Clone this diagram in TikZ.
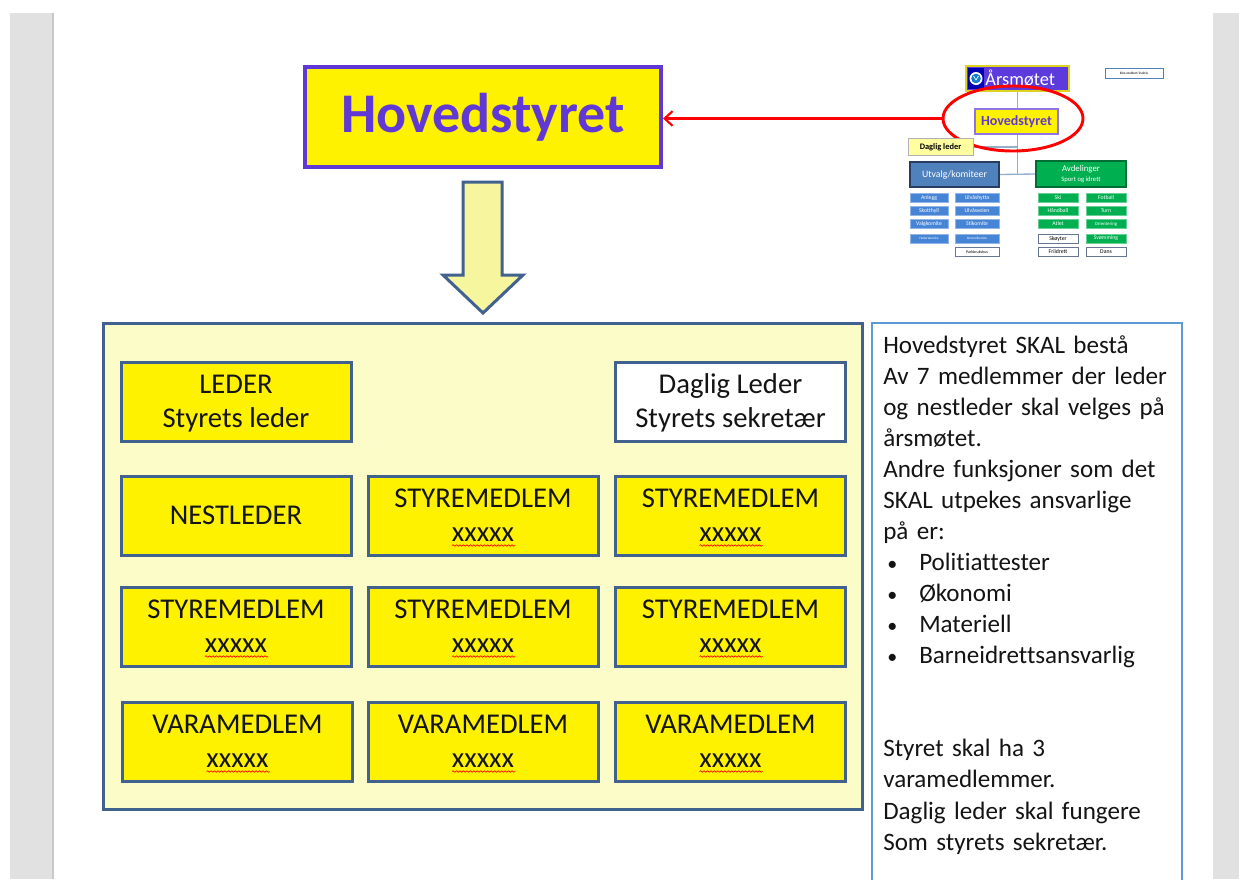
\documentclass[tikz,border=0pt]{standalone}
\usepackage{fontspec}
\setmainfont{Carlito}[Ligatures=CommonOff]
\usetikzlibrary{arrows.meta,shapes.geometric,decorations.pathmorphing,calc,backgrounds}
\definecolor{pagegray}{RGB}{225,225,225}
\definecolor{edgegray}{RGB}{200,200,200}
\definecolor{steel}{RGB}{65,98,143}
\definecolor{boardfill}{RGB}{252,252,200}
\definecolor{purp}{RGB}{96,56,214}
\definecolor{arrowfill}{RGB}{246,246,158}
\definecolor{infoblue}{RGB}{91,155,213}
\definecolor{ink}{RGB}{20,20,20}
\definecolor{arsfill}{RGB}{93,58,220}
\definecolor{orgline}{RGB}{150,175,205}
\definecolor{utvfill}{RGB}{79,129,189}
\definecolor{utvdraw}{RGB}{40,60,100}
\definecolor{avdfill}{RGB}{0,176,80}
\definecolor{avddraw}{RGB}{0,110,50}
\definecolor{subblue}{RGB}{70,132,214}
\definecolor{subgreen}{RGB}{0,176,80}
\definecolor{dlfill}{RGB}{255,255,160}
% two centred lines, caps centred as a block
\newcommand\two[2]{\begin{tabular}{@{}c@{}}\rule{0pt}{21.5pt}#1\\#2\rule[-7.65pt]{0pt}{7.65pt}\end{tabular}}
\newcommand\one[1]{\rule{0pt}{21.5pt}#1\rule[-7.65pt]{0pt}{7.65pt}}
\newcommand\blt{\makebox[27pt][l]{\hspace{3pt}\scalebox{0.8}{•}}}
\begin{document}
\begin{tikzpicture}[x=0.75pt,y=-0.75pt,
  member/.style={draw=steel, line width=2.25pt, fill=yellow, minimum width=172.5pt,
    minimum height=59.25pt, inner sep=0pt, text=ink,
    font=\fontsize{21.5}{25.5}\selectfont},
  titlebox/.style={draw=purp, line width=3pt, fill=yellow, minimum width=267pt,
    minimum height=75pt, inner sep=0pt, text=purp, font=\fontsize{42}{50}\selectfont\bfseries},
  board/.style={draw=steel, line width=2.25pt, fill=boardfill, minimum width=569.25pt,
    minimum height=364.5pt, inner sep=0pt},
  blockarrow/.style={draw=steel, line width=2.25pt, fill=arrowfill, line join=miter},
  wavy/.style={draw=red, line width=0.5pt, decorate,
    decoration={snake, amplitude=0.55pt, segment length=2.6pt}},
  redarrow/.style={draw=red, line width=1.6pt, -{Straight Barb[length=6pt,width=11pt]}},
  ring/.style={ellipse, draw=red, line width=2.2pt, minimum width=105pt, minimum height=48.75pt, inner sep=0pt},
  orgln/.style={draw=orgline, line width=1pt},
  subb/.style={draw=subblue!60!white, line width=0.4pt, fill=subblue, text=white,
    minimum height=7pt, inner sep=0pt, font=\fontsize{4.3}{5}\selectfont},
  subg/.style={draw=subgreen!60!white, line width=0.4pt, fill=subgreen, text=white,
    minimum height=7pt, minimum width=30pt, inner sep=0pt, font=\fontsize{4.3}{5}\selectfont},
  subw/.style={draw=utvdraw!70!white, line width=0.4pt, fill=white, text=black,
    minimum height=7pt, minimum width=30pt, inner sep=0pt, font=\fontsize{4.3}{5}\selectfont}
]
\useasboundingbox (0,0) rectangle (1239,879);
\begin{scope}[on background layer]
\fill[white] (0,0) rectangle (1239,879);
\fill[pagegray] (10,13) rectangle (52,879);
\fill[edgegray] (52,13) rectangle (54,879);
\fill[pagegray] (1213,13) rectangle (1239,879);
\end{scope}

% title and block arrow
\node[titlebox] (hs) at (483,117) {Hovedstyret};
\draw[blockarrow] (463,182) -- (502,182) -- (502,275) -- (523,275) -- (483,313) -- (443,275) -- (463,275) -- cycle;

% board
\node[board] (board) at (482.5,566) {};
\node[member] (m11) at (236,401.5) {\two{LEDER}{Styrets leder}};
\node[member, fill=white] (m13) at (730.5,401.5) {\two{Daglig Leder}{Styrets sekretær}};
\node[member] (m21) at (236,515.5) {\one{NESTLEDER}};
\node[member] (m22) at (483,515.5) {\two{STYREMEDLEM}{xxxxx}};
\node[member] (m23) at (730.5,515.5) {\two{STYREMEDLEM}{xxxxx}};
\node[member] (m31) at (236,626.5) {\two{STYREMEDLEM}{xxxxx}};
\node[member] (m32) at (483,626.5) {\two{STYREMEDLEM}{xxxxx}};
\node[member] (m33) at (730.5,626.5) {\two{STYREMEDLEM}{xxxxx}};
\node[member] (m41) at (237.5,741.5) {\two{VARAMEDLEM}{xxxxx}};
\node[member] (m42) at (483,741.5) {\two{VARAMEDLEM}{xxxxx}};
\node[member] (m43) at (730.5,741.5) {\two{VARAMEDLEM}{xxxxx}};
\foreach \n in {m22,m23,m31,m32,m33,m41,m42,m43}{
  \draw[wavy] ($(\n.center)+(-31,30)$) -- ($(\n.center)+(32,30)$);
}

% info box
\draw[draw=infoblue, line width=1.2pt] (872,323) rectangle (1182,900);
\node[anchor=base west, text width=225pt, align=left, inner sep=0pt, text=ink,
  font=\fontsize{18.8}{23.3}\selectfont] (info) at (883,353) {%
Hovedstyret SKAL bestå\\
Av 7 medlemmer der leder\\
og nestleder skal velges på\\
årsmøtet.\\
Andre funksjoner som det\\
SKAL utpekes ansvarlige\\
på er:\\
\blt Politiattester\\
\blt Økonomi\\
\blt Materiell\\
\blt Barneidrettsansvarlig\\
\mbox{}\\
\mbox{}\\
Styret skal ha 3\\
varamedlemmer.\\
Daglig leder skal fungere\\
Som styrets sekretær.};

% small org chart
\node[draw=yellow!85!black, line width=1pt, fill=arsfill, minimum width=77.25pt, minimum height=18.75pt,
  inner sep=0pt, text=white, font=\fontsize{13.8}{15}\selectfont] (ars) at (1017.5,78.5) {\hspace{4pt}Årsmøtet};
\fill[blue!70!black] (968,68) rectangle (984,89);
\fill[white] (976,78.5) circle (6.5);
\fill[cyan!60!blue] (976,78.5) circle (4.8);
\draw[white, line width=0.5pt] (973.5,76) -- (976,80) -- (978.5,76);
\node[draw=utvfill, line width=0.6pt, fill=white, minimum width=43.5pt, minimum height=7.5pt, inner sep=0pt,
  font=\fontsize{2.6}{3}\selectfont] (ikke) at (1134,73) {Ikke etablert/inaktiv};
\node[draw=purp!70!white, line width=1.2pt, fill=yellow, minimum width=62.25pt, minimum height=18.75pt,
  inner sep=0pt, text=purp, font=\fontsize{10.5}{12}\selectfont\bfseries] (shs) at (1016.5,121.5) {Hovedstyret};
\node[ring] (ring) at (1013,118.5) {};
\node[draw=gray!60, line width=0.6pt, fill=dlfill, minimum width=48.75pt, minimum height=12.75pt,
  inner sep=0pt, font=\fontsize{6.3}{7}\selectfont\bfseries] (dl) at (940.5,147) {Daglig leder};
\node[draw=utvdraw, line width=1pt, fill=utvfill, minimum width=66.75pt, minimum height=18.75pt,
  inner sep=0pt, text=white, font=\fontsize{7.3}{8}\selectfont] (utv) at (954.5,174.5) {Utvalg/komiteer};
\node[draw=avddraw, line width=1pt, fill=avdfill, minimum width=67.5pt, minimum height=19.5pt,
  inner sep=0pt, text=white, align=center, font=\fontsize{6.6}{7.5}\selectfont] (avd) at (1081,174)
  {Avdelinger\\[-0.5pt]{\fontsize{5}{6}\selectfont Sport og idrett}};
\begin{scope}[on background layer]
\draw[orgln] (ars.south) -- (ars.south |- utv.east);
\draw[orgln] (dl.east) -- (dl.east -| ars.south);
\draw[orgln] (utv.east) -- (avd.west);
\end{scope}

\node[subb, minimum width=28.5pt] (a1) at (929,197.5) {Anlegg};
\node[subb, minimum width=28.5pt] (a2) at (929,210.5) {Skotthyll};
\node[subb, minimum width=28.5pt] (a3) at (929,224) {Valgkomite};
\node[subb, minimum width=28.5pt, font=\fontsize{2.5}{3}\selectfont] (a4) at (929,238.5) {Hederskomite};
\node[subb, minimum width=33pt] (b1) at (977,197.5) {Ulvåshytta};
\node[subb, minimum width=33pt] (b2) at (977,210.5) {Ulvåsveien};
\node[subb, minimum width=33pt] (b3) at (977,224) {Stikomite};
\node[subb, minimum width=33pt, font=\fontsize{2.5}{3}\selectfont] (b4) at (977,238.5) {Kontrollkomite};
\node[subw, minimum width=33pt, font=\fontsize{3}{3.5}\selectfont] (b5) at (977,252) {Parkbrukshus};
\node[subg] (c1) at (1058,197.5) {Ski};
\node[subg] (c2) at (1058,210.5) {Håndball};
\node[subg] (c3) at (1058,224) {Atlet};
\node[subw] (c4) at (1058,238.5) {Skøyter};
\node[subw] (c5) at (1058,252) {Friidrett};
\node[subg] (d1) at (1106,197.5) {Fotball};
\node[subg] (d2) at (1106,210.5) {Turn};
\node[subg, font=\fontsize{3.6}{4}\selectfont] (d3) at (1106,224) {Orientering};
\node[subg] (d4) at (1106,238.5) {Svømming};
\node[subw] (d5) at (1106,252) {Dans};

% red connector
\draw[redarrow] (ring.west) -- (ring.west -| hs.east);
\end{tikzpicture}
\end{document}
